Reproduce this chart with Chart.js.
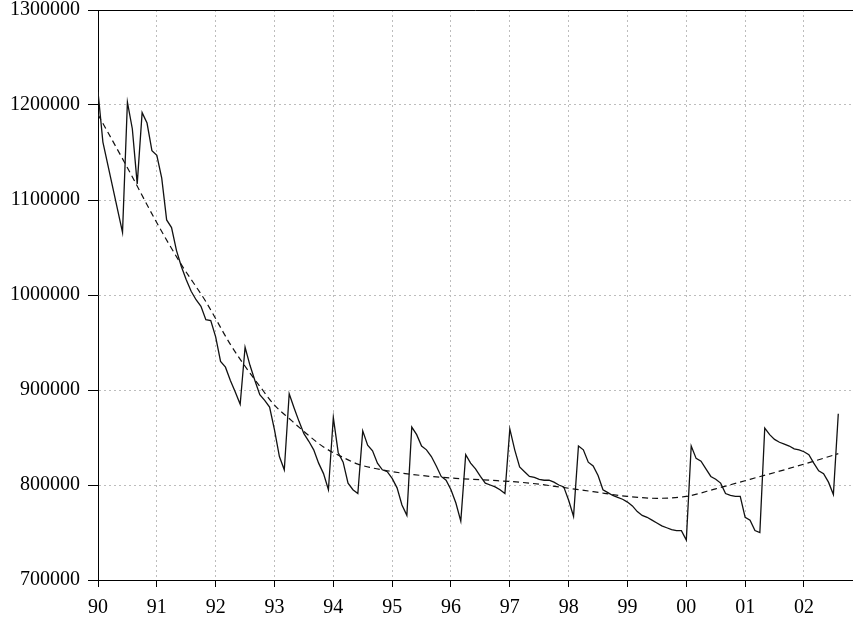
<!DOCTYPE html>
<html>
<head>
<meta charset="utf-8">
<script src="https://cdn.jsdelivr.net/npm/chart.js@4/dist/chart.umd.min.js"></script>
<style>
  body { margin: 0; background: #fff; }
  canvas { display: block; }
</style>
</head>
<body>
<canvas id="chart" width="853" height="617"></canvas>
<script>
// monthly values, Jan 1990 .. Aug 2002 (null = no reading, line spans the gap)
const values = [
    1214000, 1161000, null, null, null, 1066000, 1203000, 1175000, 1117000, 1192000, 1181000, 1152000,
    1147000, 1123000, 1079000, 1071000, 1047000, 1030000, 1016000, 1004000, 995000, 988000, 974000, 973000,
    956000, 930000, 924000, 910000, 898000, 885000, 945000, 926000, 910000, 895000, 889000, 882000,
    858000, 830000, 816000, 896000, 881000, 867000, 854000, 846000, 837000, 823000, 812000, 795000,
    871000, 834000, 824000, 802000, 795000, 791000, 857000, 842000, 836000, 823000, 816000, 814000,
    807000, 797000, 779000, 768000, 861000, 853000, 841000, 837000, 830000, 820000, 809000, 805000,
    795000, 781000, 762000, 832000, 823000, 817000, 809000, 802000, 800000, 798000, 795000, 791000,
    859000, 837000, 819000, 814000, 809000, 808000, 806000, 805000, 805000, 803000, 800000, 798000,
    784000, 767000, 841000, 837000, 824000, 820000, 810000, 795000, 792000, 789000, 787000, 785000,
    782000, 778000, 772000, 768000, 766000, 763000, 760000, 757000, 755000, 753000, 752000, 752000,
    742000, 841000, 828000, 825000, 817000, 809000, 806000, 802000, 791000, 789000, 788000, 788000,
    766000, 763000, 752000, 750000, 860000, 853000, 848000, 845000, 843000, 841000, 838000, 837000,
    835000, 832000, 823000, 815000, 812000, 803000, 790000, 875000
];

// dashed trend, read at a few months
const trendMonths = [0, 6, 12, 17, 22, 27, 30, 33, 36, 39, 43, 46, 50, 53, 59, 66, 73, 80, 88, 94, 101, 108, 114, 120, 126, 133, 140, 146, 151];
const trendValues = [1190000, 1134000, 1076000, 1032000, 993000, 948000, 925000, 904000, 884000, 870000, 852000, 840000, 829000, 822000,
    815000, 810000, 807000, 805000, 802000, 798000, 793000, 788000, 786000, 788000, 796000, 806000, 816000, 825000, 833000];

const yearLabels = ["90", "91", "92", "93", "94", "95", "96", "97", "98", "99", "00", "01", "02"];

const seriesPoints = values.map((v, i) => ({ x: i, y: v }));
const trendPoints = trendMonths.map((m, i) => ({ x: m, y: trendValues[i] }));

const gridColor = "#bdbdbd";
const tickFont = { family: "'Liberation Serif', 'DejaVu Serif', serif", size: 20 };

// solid line along the top of the plot
const topLine = {
    id: "topLine",
    afterDatasetsDraw(chart) {
        const { ctx, chartArea } = chart;
        ctx.save();
        ctx.strokeStyle = "#000";
        ctx.lineWidth = 1;
        ctx.beginPath();
        ctx.moveTo(chartArea.left, chartArea.top + 0.5);
        ctx.lineTo(chartArea.right, chartArea.top + 0.5);
        ctx.stroke();
        ctx.restore();
    }
};

new Chart(document.getElementById("chart").getContext("2d"), {
    type: "line",
    data: {
        datasets: [{
            data: seriesPoints,
            borderColor: "#111",
            borderWidth: 1.3,
            pointRadius: 0,
            tension: 0,
            spanGaps: true,
            fill: false
        }, {
            data: trendPoints,
            borderColor: "#111",
            borderWidth: 1.2,
            borderDash: [6, 4],
            pointRadius: 0,
            cubicInterpolationMode: "monotone",
            fill: false
        }]
    },
    options: {
        responsive: false,
        animation: false,
        events: [],
        layout: { padding: { top: 10, right: 0, bottom: 0, left: 0 } },
        plugins: { legend: { display: false }, tooltip: { enabled: false } },
        scales: {
            x: {
                type: "linear",
                min: 0,
                max: 154,
                afterFit: s => { s.height = 37; s.paddingLeft = 0; s.paddingRight = 0; },
                grid: { color: gridColor, tickColor: "#000", tickLength: 7 },
                border: { color: "#000", dash: [2, 3] },
                ticks: {
                    stepSize: 12,
                    includeBounds: false,
                    autoSkip: false,
                    maxRotation: 0,
                    padding: 9,
                    color: "#000",
                    font: tickFont,
                    callback: v => (v % 12 === 0 ? yearLabels[v / 12] : "")
                }
            },
            y: {
                min: 700000,
                max: 1300000,
                afterFit: s => { s.width = 98; s.paddingTop = 0; s.paddingBottom = 0; },
                grid: { color: gridColor, tickColor: "#000", tickLength: 10 },
                border: { color: "#000", dash: [2, 3] },
                ticks: {
                    stepSize: 100000,
                    padding: 8,
                    color: "#000",
                    font: tickFont,
                    callback: v => String(v)
                }
            }
        }
    },
    plugins: [topLine]
});
</script>
</body>
</html>
